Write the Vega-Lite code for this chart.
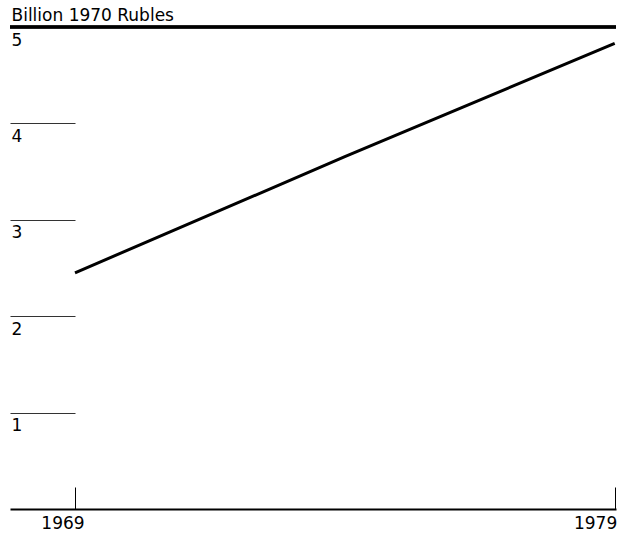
{
  "$schema": "https://vega.github.io/schema/vega-lite/v6.json",
  "width": 606,
  "height": 482,
  "autosize": {"type": "none"},
  "padding": {"left": 10, "top": 27, "right": 4, "bottom": 24},
  "background": "white",
  "config": {
    "view": {"stroke": null},
    "font": "DejaVu Sans",
    "axis": {"grid": false, "labelFont": "DejaVu Sans", "labelFontSize": 17, "labelColor": "black", "titleFont": "DejaVu Sans"}
  },
  "data": {
    "values": [
      {"year": 1969, "value": 2.45},
      {"year": 1974, "value": 3.655},
      {"year": 1979, "value": 4.83}
    ]
  },
  "layer": [
    {
      "mark": {"type": "line", "color": "black", "strokeWidth": 3, "strokeCap": "butt"},
      "encoding": {
        "x": {
          "field": "year",
          "type": "quantitative",
          "scale": {"domain": [1967.796, 1979.024], "nice": false, "zero": false},
          "axis": {
            "title": null,
            "values": [1969, 1979],
            "format": "d",
            "domainColor": "black",
            "domainWidth": 2,
            "tickColor": "black",
            "tickWidth": 1,
            "tickSize": -22,
            "labelPadding": 28,
            "labelBaseline": "top",
            "labelAlign": {"condition": {"test": "datum.value == 1979", "value": "right"}, "value": "center"},
            "labelOffset": {"condition": {"test": "datum.value == 1979", "value": 2}, "value": -12.5}
          }
        },
        "y": {
          "field": "value",
          "type": "quantitative",
          "scale": {"domain": [0, 5], "nice": false},
          "axis": {
            "title": "Billion 1970 Rubles",
            "titleAngle": 0,
            "titleAlign": "left",
            "titleBaseline": "alphabetic",
            "titleX": 1,
            "titleY": -7,
            "titleFontSize": 17,
            "titleFontWeight": "normal",
            "titleColor": "black",
            "values": [1, 2, 3, 4, 5],
            "format": "d",
            "domain": false,
            "tickColor": "#333",
            "tickWidth": 1,
            "tickSize": -65,
            "labelAlign": "left",
            "labelBaseline": "top",
            "labelPadding": 64,
            "labelOffset": 5
          }
        }
      }
    },
    {
      "mark": {"type": "rule", "color": "black", "strokeWidth": 3},
      "encoding": {"y": {"datum": 5}}
    }
  ]
}
